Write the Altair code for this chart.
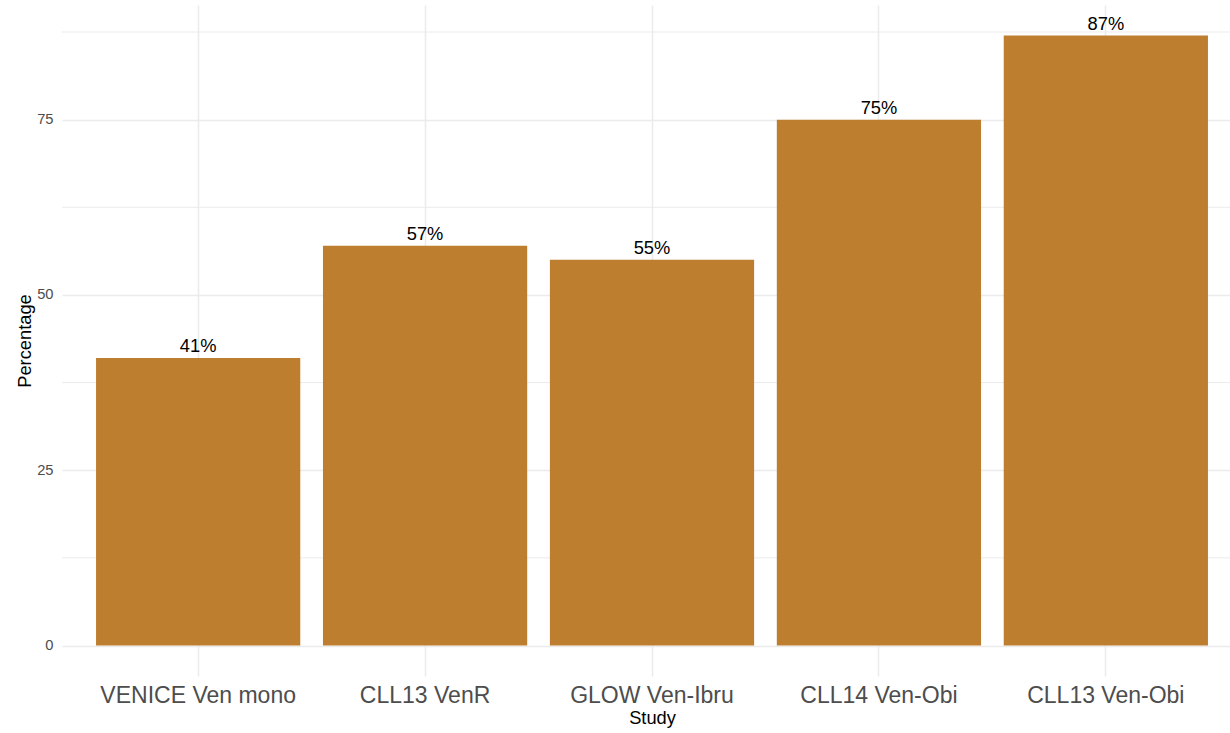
import altair as alt
import pandas as pd

# Study arms and the percentage reported for each
studies = ["VENICE Ven mono", "CLL13 VenR", "GLOW Ven-Ibru", "CLL14 Ven-Obi", "CLL13 Ven-Obi"]
percentages = [41, 57, 55, 75, 87]

# Axis breaks (major labelled, minor only as faint grid)
major_breaks = [0, 25, 50, 75]
minor_breaks = [12.5, 37.5, 62.5, 87.5]

FONT = "Liberation Sans"
BAR_COLOR = "#BE7E2F"
GRID = "#EBEBEB"

df = pd.DataFrame({"Study": studies, "Percentage": percentages})
minor_df = pd.DataFrame({"y": minor_breaks})

x_scale = alt.Scale(domain=studies, range=[0, 1180], paddingInner=0.1, paddingOuter=0.15)
y_scale = alt.Scale(domain=[-4.35, 91.35], nice=False, zero=False)

x_axis = alt.Axis(
    title="Study",
    labelAngle=0,
    labelFontSize=23,
    labelColor="#4D4D4D",
    labelFont=FONT,
    labelPadding=8,
    labelLimit=0,
    ticks=False,
    domain=False,
    grid=True,
    gridColor=GRID,
    gridWidth=1.5,
    bandPosition=0.5,
    titleFont=FONT,
    titleFontSize=18.3,
    titleFontWeight="normal",
    titleColor="#000000",
    titleX=590,
    titleY=47,
    titleBaseline="alphabetic",
)

y_axis = alt.Axis(
    title="Percentage",
    values=major_breaks,
    labelFontSize=14.7,
    labelColor="#4D4D4D",
    labelFont=FONT,
    labelPadding=9,
    ticks=False,
    domain=False,
    grid=True,
    gridColor=GRID,
    gridWidth=1.5,
    titleFont=FONT,
    titleFontSize=18.3,
    titleFontWeight="normal",
    titleColor="#000000",
    titleX=-32,
    titleY=335.5,
    titleBaseline="alphabetic",
)

minor_grid = alt.Chart(minor_df).mark_rule(color=GRID, strokeWidth=1).encode(
    y=alt.Y("y:Q", scale=y_scale, axis=y_axis, title="Percentage")
)

bars = alt.Chart(df).mark_bar(color=BAR_COLOR).encode(
    x=alt.X("Study:N", scale=x_scale, axis=x_axis, sort=studies),
    y=alt.Y("Percentage:Q", scale=y_scale, axis=y_axis),
)

labels = alt.Chart(df).transform_calculate(
    label="datum.Percentage + '%'"
).mark_text(
    font=FONT, fontSize=18.3, color="#000000", baseline="alphabetic", dy=-6
).encode(
    x=alt.X("Study:N", scale=x_scale, axis=x_axis, sort=studies),
    y=alt.Y("Percentage:Q", scale=y_scale, axis=y_axis),
    text="label:N",
)

chart = alt.layer(minor_grid, bars, labels).properties(
    width=1168,
    height=671,
    autosize=alt.AutoSizeParams(type="none"),
    padding={"left": 62, "top": 5, "right": 0, "bottom": 57},
    background="white",
).configure_view(stroke=None)

chart.save("out.html", embed_options={"renderer": "svg", "actions": False})
